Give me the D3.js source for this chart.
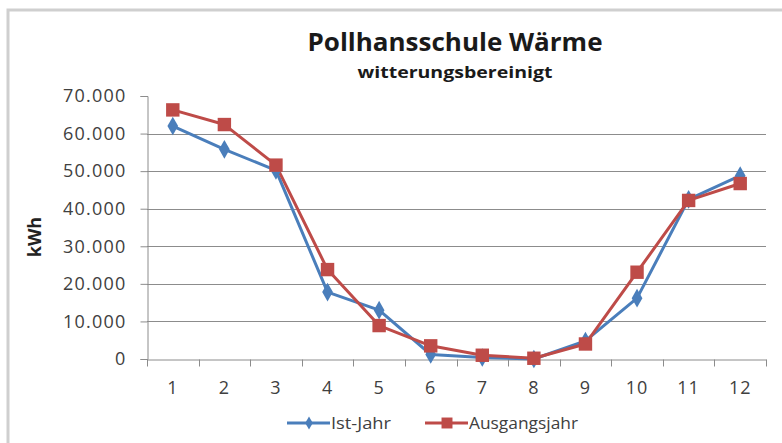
<!DOCTYPE html>
<html>
<head>
<meta charset="utf-8">
<script src="https://cdn.jsdelivr.net/npm/d3@7"></script>
<style>
  body { margin: 0; background: #fff; }
  svg { display: block; font-family: "Open Sans", Lato, sans-serif; }
</style>
</head>
<body>
<svg id="chart" width="782" height="443"></svg>
<script>
const months = ["1", "2", "3", "4", "5", "6", "7", "8", "9", "10", "11", "12"];
const istJahr = [62000, 55800, 50200, 17800, 13000, 1200, 400, 0, 4800, 16200, 42500, 48800];
const ausgangsjahr = [66300, 62400, 51600, 23800, 8900, 3500, 1000, 200, 4000, 23100, 42200, 46700];
const yTicks = [0, 10000, 20000, 30000, 40000, 50000, 60000, 70000];

const svg = d3.select("#chart");

const blue = "#4a7ebb";
const red = "#be4b48";
const grid = "#8c8c8c";
const textCol = "#404040";

// chart frame: only the left and top edges are visible
svg.append("path")
  .attr("d", "M8,443V10H782")
  .attr("fill", "none").attr("stroke", "#cfcfcf").attr("stroke-width", 3);

const m = { left: 147, right: 766, top: 96, bottom: 359 };

const x = d3.scaleBand().domain(months).range([m.left, m.right]);
const y = d3.scaleLinear().domain([0, 70000]).range([m.bottom, m.top]);

const fmt = v => d3.format(",")(v).replace(/,/g, ".");

// gridlines
svg.append("g")
  .selectAll("line")
  .data(yTicks.filter(d => d > 0 && d < 70000))
  .join("line")
  .attr("x1", m.left).attr("x2", m.right)
  .attr("y1", d => Math.round(y(d)) + 0.5).attr("y2", d => Math.round(y(d)) + 0.5)
  .attr("stroke", grid).attr("stroke-width", 1);

// y axis
const yAxis = svg.append("g")
  .attr("transform", `translate(${m.left + 0.5},0)`)
  .call(d3.axisLeft(y).tickValues(yTicks).tickFormat(fmt).tickSize(7).tickPadding(14));
yAxis.select(".domain").attr("stroke", grid);
yAxis.selectAll(".tick line").attr("stroke", grid);
yAxis.selectAll("text")
  .attr("font-size", 18).attr("fill", textCol)
  .attr("font-family", "Open Sans, sans-serif")
  .attr("letter-spacing", 1.2);

// x axis
const xAxis = svg.append("g")
  .attr("transform", `translate(0,${Math.round(y(0)) + 0.5})`)
  .call(d3.axisBottom(x).tickSize(0).tickPadding(22));
xAxis.select(".domain").attr("stroke", grid);
xAxis.selectAll("text")
  .attr("font-size", 18).attr("fill", textCol)
  .attr("font-family", "Open Sans, sans-serif")
  .attr("letter-spacing", 1);
// category boundary ticks
xAxis.append("g")
  .selectAll("line")
  .data(months.map(d => x(d)).concat([m.right]))
  .join("line")
  .attr("x1", d => Math.round(d) + 0.5).attr("x2", d => Math.round(d) + 0.5)
  .attr("y1", 0).attr("y2", 7)
  .attr("stroke", grid);

// titles
svg.append("text")
  .attr("x", 455).attr("y", 51)
  .attr("text-anchor", "middle")
  .attr("font-size", 25).attr("font-weight", "bold").attr("fill", "#1a1a1a")
  .attr("textLength", 295).attr("lengthAdjust", "spacingAndGlyphs")
  .text("Pollhansschule Wärme");
svg.append("text")
  .attr("x", 455).attr("y", 78)
  .attr("text-anchor", "middle")
  .attr("font-size", 16).attr("font-weight", "bold").attr("fill", "#1a1a1a")
  .attr("textLength", 195).attr("lengthAdjust", "spacingAndGlyphs")
  .text("witterungsbereinigt");

svg.append("text")
  .attr("transform", "translate(35,237) rotate(-90)")
  .attr("text-anchor", "middle").attr("dy", "0.35em")
  .attr("font-size", 18).attr("font-weight", "bold").attr("fill", "#222")
  .text("kWh");

// series
const cx = i => x(months[i]) + x.bandwidth() / 2;
const line = d3.line().x((d, i) => cx(i)).y(d => y(d));

const series = [
  { name: "Ist-Jahr", values: istJahr, color: blue, shape: d3.symbolDiamond, size: 100 },
  { name: "Ausgangsjahr", values: ausgangsjahr, color: red, shape: d3.symbolSquare, size: 180 }
];

series.forEach(s => {
  svg.append("path")
    .datum(s.values)
    .attr("d", line)
    .attr("fill", "none")
    .attr("stroke", s.color)
    .attr("stroke-width", 3)
    .attr("stroke-linejoin", "round");
});
series.forEach(s => {
  svg.append("g")
    .selectAll("path")
    .data(s.values)
    .join("path")
    .attr("transform", (d, i) => `translate(${cx(i)},${y(d)})`)
    .attr("d", d3.symbol().type(s.shape).size(s.size))
    .attr("fill", s.color);
});

// legend
const legend = svg.append("g").attr("transform", "translate(0,423)");
const legendX = [287, 425];
const legendW = [60, 109];
series.forEach((s, i) => {
  const g = legend.append("g").attr("transform", `translate(${legendX[i]},0)`);
  g.append("line").attr("x1", 0).attr("x2", 43).attr("stroke", s.color).attr("stroke-width", 3);
  g.append("path").attr("transform", "translate(22,0)")
    .attr("d", d3.symbol().type(s.shape).size(i === 0 ? 50 : 120))
    .attr("fill", s.color);
  g.append("text").attr("x", 44).attr("dy", "0.35em")
    .attr("font-size", 16).attr("fill", textCol)
    .attr("textLength", legendW[i]).attr("lengthAdjust", "spacingAndGlyphs")
    .text(s.name);
});
</script>
</body>
</html>
